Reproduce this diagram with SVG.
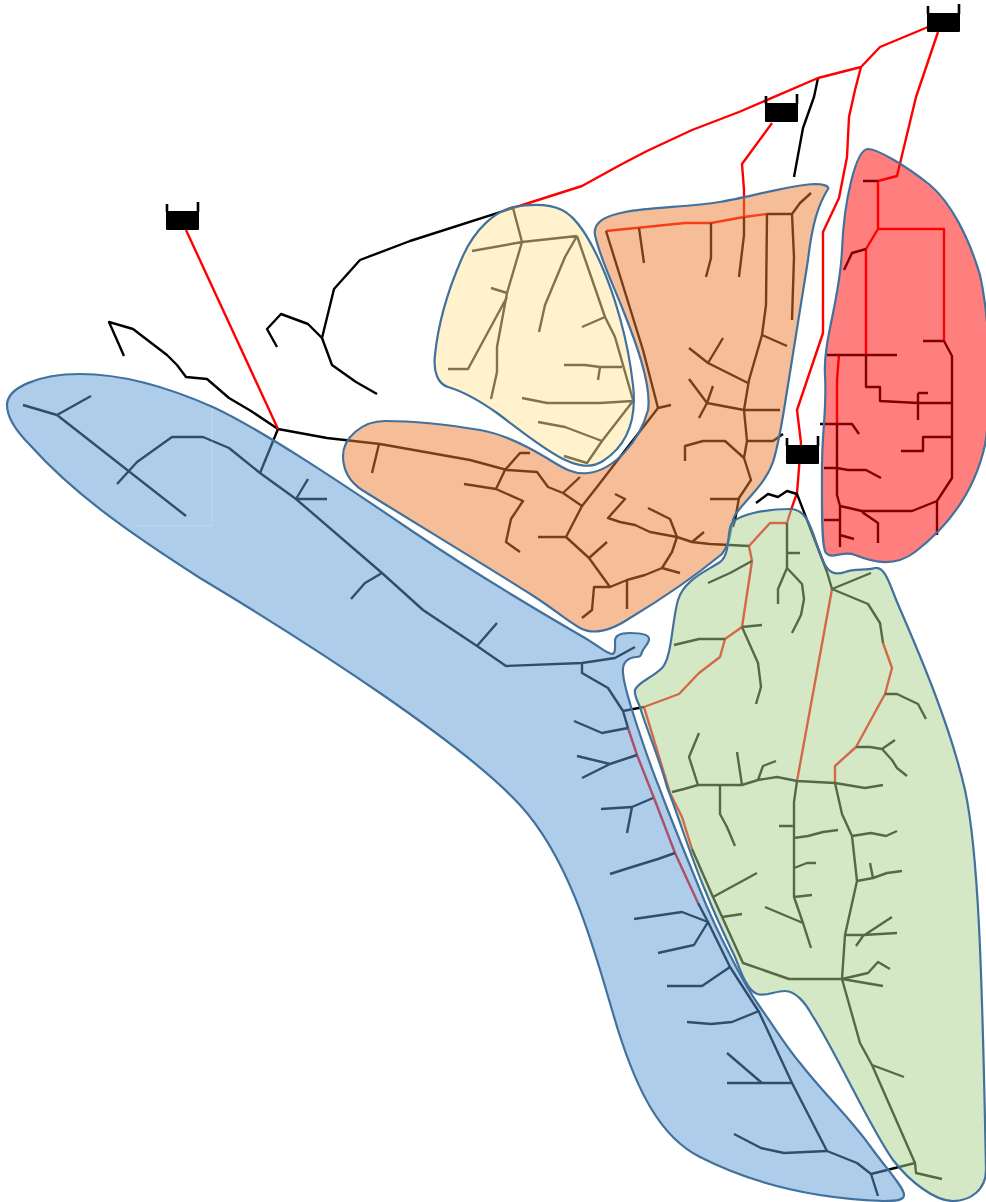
<svg xmlns="http://www.w3.org/2000/svg" width="986" height="1202" viewBox="0 0 986 1202">
<style>
.k{fill:none;stroke:#000;stroke-width:2.4;stroke-linejoin:round}
.r{fill:none;stroke:#f00;stroke-width:2.4;stroke-linejoin:round}
.zone{stroke:#41719c;stroke-width:2.2;fill-opacity:.5}
</style>
<defs>
<g id="tank"><rect x="0" y="0" width="33" height="19" rx="1" fill="#000"/><path d="M1 -7V1M32 -9V1" stroke="#000" stroke-width="2.6" fill="none"/></g>
</defs>
<g id="connectors">
<path class="k" d="M513 208L410 241 360 260 334 289 322 338 308 324 281 314 267 329 277 347M322 338L332 365 356 382 377 394"/>
<path class="k" d="M124 356L109 322 133 329 167 355 177 365 186 377 207 379 229 398 251 411 278 429 327 438 380 444M278 429L260 473"/>
<path class="k" d="M818 78L814 97 803 128 794 177"/>
<path class="r" d="M513 208L582 186 622 164 647 151 692 130 739 112 818 78 861 67 880 47 928 27"/>
<path class="r" d="M186 230L278 429"/>
<path class="r" d="M772 123L742 164 744 190 744 217"/>
<path class="r" d="M861 67L855 90 849 117 847 157 839 198 823 232 823 333 797 410 801 443 797 493 791 510 787 523 770 523 749 546 752 561 742 627 725 639 720 657 699 673 679 694 644 707 670 793 682 817 692 849"/>
<path class="r" d="M938 32L916 97 897 176 878 181 878 229 944 229 944 341M878 229L866 249 866 355"/>
<path class="r" d="M832 589L797 781"/>
<path class="r" d="M883 643L892 668 885 694 856 747 835 766 835 783"/>
<path class="r" d="M628 728L637 755 654 798 675 853 698 903"/>
<path class="r" d="M606 231L685 223 711 223 744 217 767 214"/>
<path class="r" d="M839 355L837 380 837 425"/>
<path class="k" d="M23 405L57 415 91 396M57 415L186 516"/>
<path class="k" d="M117 484L137 462 172 437 203 437 229 448 260 473 296 499 382 573 423 610 477 646 506 666 582 663 615 658 635 647"/>
<path class="k" d="M296 499L308 479M296 499H327M382 573L365 583 351 599M477 646L497 623"/>
<path class="k" d="M582 663V673L608 688 623 711 628 728M623 711L644 707"/>
<path class="k" d="M574 721L602 733 628 728M582 778L610 764 637 755M577 756L610 764M601 809L632 807 653 798M627 833L632 807M610 874L632 867 658 859 675 853"/>
<path class="k" d="M698 903L708 922 730 967 759 1012 792 1083 827 1151 857 1163 871 1174 878 1196M871 1174L915 1163 916 1173 942 1179"/>
<path class="k" d="M634 919L682 912 708 922 694 945 658 953M667 986H702L730 967M687 1022L711 1024 732 1022 759 1011M727 1083H792M727 1053L762 1083M734 1134L761 1148 784 1153 827 1151"/>
<path class="k" d="M380 444L470 460 507 470 537 472 548 487 563 493 582 506M379 444L372 473M530 453H520L505 470 496 489M464 484L496 489 523 501 511 519 506 542 520 552M563 493L580 477"/>
<path class="k" d="M671 405L658 408 627 448 597 487 582 506 566 537H538M566 537L589 558 607 542M589 558L610 587H594L592 610 582 618M610 587L627 580V609M627 580L645 575 662 568 680 573M662 568L672 552 677 537 650 532 635 525 620 522 608 518 625 499 615 494M677 537L670 519 648 508M677 537L692 542 704 532M692 542L710 544 749 546"/>
<path class="k" d="M606 231L643 350 658 408M639 228L644 263M711 223V258L706 277M744 217V235L739 277M767 214H792L800 203 811 193M792 214L794 257 792 320M767 214L766 305 762 335 749 380 744 410 747 441 744 458 751 480 739 498 735 520 733 527M762 335L787 346M748 383L708 363 689 348M708 363L723 338M744 410L707 403 689 379M713 386L707 403 699 418M744 410H780M747 441H773L783 434M744 458L725 441H703L685 446V461M710 499H739"/>
<path class="k" d="M513 208L522 242 472 251M522 242L577 236M522 242L507 293 491 288M507 293L497 347V372L491 399M507 297L468 369H448M577 236L565 257 545 305 539 332M577 236L605 317 615 337 633 400M605 317L582 327M564 365H585L600 367H622M600 367L598 380M522 398L547 403H600L633 401 602 441 587 463 564 456M538 422L565 427 602 441"/>
<path class="k" d="M863 181H878M866 249L852 253 844 270M827 355H897M866 355V387H880V401L918 403H952M918 393H928M918 393V420M944 341H923M944 341L952 356V478L937 501 912 511H862L840 506 837 495V425M820 424H852L859 434M824 468H837L848 470H866L881 478M952 437H923V451H901M937 501V535M862 512L878 523V543M824 520H839M840 506V547M840 535L854 539"/>
<path class="k" d="M756 503L768 494 778 497 787 491 797 494 827 572 832 589 871 573M832 589L868 604 880 623 883 643"/>
<path class="k" d="M885 694H897L918 704 926 719M856 747H870L882 749 895 740M882 749L892 760 897 768 907 776"/>
<path class="k" d="M787 523V568M787 553H800M787 568L778 589V604M787 568L802 584 804 599 801 615 792 633M752 561L730 573 708 583M742 627L762 625M742 627L758 663 761 687 756 704M725 639H699L674 645"/>
<path class="k" d="M672 792L684 789 698 785H742L758 780 777 777 797 781 835 783 865 788 883 785M698 785L689 757 699 733M742 785L737 752M758 780L763 766 776 761M720 785V814L727 827 735 846"/>
<path class="k" d="M797 781L794 802V897L803 923 811 948M794 826H779M794 838L808 836 823 832 838 830M794 868L807 863H816M794 897L812 895M803 923L765 907"/>
<path class="k" d="M835 783L842 814 852 836 857 881 845 935 842 979 860 1043 872 1065 915 1163M872 1065L904 1077M852 836L871 833 886 836 897 831M857 881L873 878 887 873 902 871M873 878L870 863M845 935H863L897 933M863 936L892 917M863 936L856 946M842 979L868 973 878 962 890 969M842 979L883 986"/>
<path class="k" d="M692 849L713 897 743 963 789 979H842M713 897L757 873M722 917L742 914"/>
</g>
<g id="zone-blue"><path class="zone" fill="#5b9bd5" d="M7 405C7 388 38 374 80 374C125 374 175 390 215 408C265 432 340 482 415 533C470 570 540 612 585 638C597 645 607 654 612 654C616 654 615 645 615 641C615 635 620 633 630 633C638 633 649 634 649 639C649 644 643 648 642 652C641 656 640 657 636 657C627 658 622 663 623 673C624 685 627 692 631 707C640 735 648 760 659 787C673 825 688 860 700 890C710 915 718 932 730 955C740 975 748 990 760 1007C773 1025 785 1045 800 1063C825 1095 850 1118 870 1146C885 1167 904 1187 904 1195C904 1200 897 1201 885 1201C820 1199 755 1185 700 1157C660 1137 637 1090 618 1030C598 965 575 865 520 805C465 745 320 650 200 578C125 530 72 492 30 445C17 432 7 418 7 405Z"/><path d="M212 408V526H136" fill="none" stroke="#fff" stroke-opacity=".25"/></g>
<g id="zone-orange"><path class="zone" fill="#ed7d31" d="M343 456C343 438 362 421 385 421C415 421 450 425 480 430C503 434 525 445 545 457C560 466 572 475 588 473C615 470 640 440 648 410C652 385 635 340 623 310C612 282 600 258 595 235C593 222 605 216 625 212C650 207 690 207 720 202C750 197 790 185 815 184C822 184 830 186 828 189C818 205 812 225 808 260C802 300 795 340 788 385C783 415 780 440 773 462C765 485 745 500 735 515C730 523 733 540 722 554C700 572 665 597 630 618C612 630 595 636 580 628C566 620 555 610 535 597C480 562 410 520 362 490C350 482 343 472 343 456Z"/></g>
<g id="zone-yellow"><path class="zone" fill="#ffe699" d="M513 207C530 204 548 203 562 210C578 218 590 240 600 262C615 295 628 340 633 385C637 420 628 445 603 461C590 469 578 466 563 459C540 447 520 430 497 413C480 401 465 392 448 387C438 384 433 372 435 355C438 325 448 290 462 258C475 228 495 212 513 207Z"/></g>
<g id="zone-red"><path class="zone" fill="#f00" d="M868 149C877 149 905 165 930 185C950 202 968 235 980 275C990 320 993 400 985 445C975 490 950 525 915 552C895 567 875 563 855 555C843 550 832 560 826 553C821 547 822 500 822 467C822 430 827 410 825 375C823 340 840 300 842 250C844 200 856 149 868 149Z"/></g>
<g id="zone-green"><path class="zone" fill="#a9d18e" d="M635 690C638 682 652 678 662 668C672 658 672 620 678 600C684 580 705 572 720 562C730 555 727 535 731 525C735 515 765 509 790 509C810 509 812 535 822 558C827 572 834 576 845 572C855 568 865 571 875 568C885 566 890 585 897 602C920 655 950 725 965 790C978 850 982 960 986 1170C986 1190 970 1201 953 1201C935 1201 910 1182 893 1160C870 1128 835 1050 812 1015C805 1002 795 991 785 991C775 991 765 997 757 994C747 990 741 972 735 957C722 930 713 910 705 890C690 855 680 820 667 787C660 760 645 725 640 707C637 700 634 695 635 690Z"/></g>
<g id="tank-1"><use href="#tank" x="166" y="211"/></g>
<g id="tank-2"><use href="#tank" x="765" y="103"/></g>
<g id="tank-3"><use href="#tank" x="927" y="13"/></g>
<g id="tank-4"><use href="#tank" x="786" y="445"/></g>
</svg>
